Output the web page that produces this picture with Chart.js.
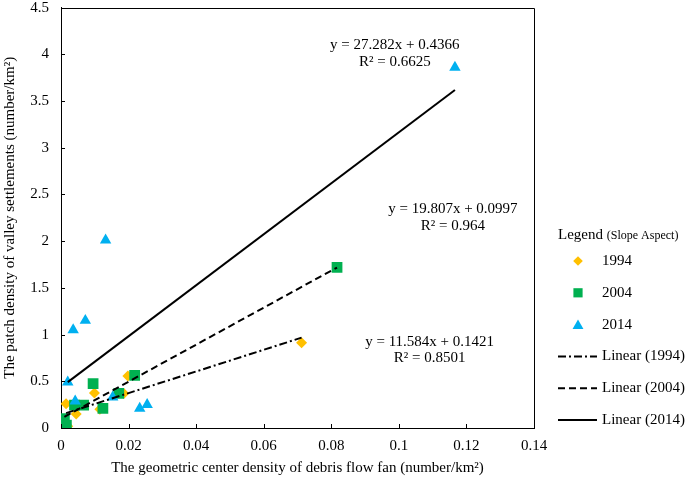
<!DOCTYPE html>
<html lang="en">
<head>
<meta charset="UTF-8">
<title>Valley settlements vs debris flow fans</title>
<script src="https://cdn.jsdelivr.net/npm/chart.js"></script>
<style>
    body { margin: 0; background: #fff; }
    #wrap { width: 685px; height: 481px; }
</style>
</head>
<body>
<div id="wrap"><canvas id="chart" width="685" height="481"></canvas></div>
<script>
// values
const years = ['1994', '2004', '2014'];

const fan1994 = [0.0015, 0.002, 0.0045, 0.0099, 0.0115, 0.0186, 0.0198, 0.0712];
const settle1994 = [0.26, 0.02, 0.15, 0.375, 0.20, 0.37, 0.556, 0.912];

const fan2004 = [0.001, 0.0016, 0.004, 0.0067, 0.0095, 0.0124, 0.0171, 0.0218, 0.0817];
const settle2004 = [0.10, 0.03, 0.245, 0.245, 0.475, 0.21, 0.37, 0.564, 1.72];

const fan2014 = [0.002, 0.0036, 0.0042, 0.0072, 0.0132, 0.0153, 0.0233, 0.0255, 0.1166];
const settle2014 = [0.49, 1.05, 0.287, 1.15, 2.01, 0.33, 0.21, 0.25, 3.86];

// linear trend lines as printed on the chart
const slopes = [11.584, 19.807, 27.282];
const intercepts = [0.1421, 0.0997, 0.4366];
const rSquared = [0.8501, 0.964, 0.6625];

const xTickLabels = ['0', '0.02', '0.04', '0.06', '0.08', '0.1', '0.12', '0.14'];
const yTickLabels = ['0', '0.5', '1', '1.5', '2', '2.5', '3', '3.5', '4', '4.5'];

// where each equation label sits, in data units (x, y of first line centre)
const eqAnchors = [[0.1091, 0.925], [0.1160, 2.34], [0.0988, 4.095]];

const colors = ['#FFC000', '#00B050', '#00B0F0'];
const shapes = ['rectRot', 'rect', 'triangle'];
const radii = [5.5, 7.6, 6.6];
const dashes = [[8, 3, 2, 3], [7, 4], []];
const FONT = "'Liberation Serif', 'Times New Roman', serif";

const fans = [fan1994, fan2004, fan2014];
const settles = [settle1994, settle2004, settle2014];

function points(xs, ys) {
    return xs.map((x, i) => ({ x: x, y: ys[i] }));
}

function trend(i) {
    const lo = Math.min(...fans[i]);
    const hi = Math.max(...fans[i]);
    return [lo, hi].map(x => ({ x: x, y: slopes[i] * x + intercepts[i] }));
}

const datasets = [];
years.forEach((yr, i) => {
    datasets.push({
        label: yr,
        data: points(fans[i], settles[i]),
        pointStyle: shapes[i],
        pointRadius: radii[i],
        pointHoverRadius: radii[i],
        pointBackgroundColor: colors[i],
        pointBorderWidth: 0,
        showLine: false,
        order: 3 - i
    });
});
years.forEach((yr, i) => {
    datasets.push({
        label: 'Linear (' + yr + ')',
        data: trend(i),
        showLine: true,
        borderColor: '#000',
        borderWidth: 2,
        borderDash: dashes[i],
        pointRadius: 0,
        order: 0
    });
});

function drawMarker(ctx, shape, x, y, r, color) {
    ctx.fillStyle = color;
    ctx.beginPath();
    if (shape === 'rect') {
        ctx.rect(x - r, y - r, 2 * r, 2 * r);
    } else if (shape === 'rectRot') {
        ctx.moveTo(x, y - r); ctx.lineTo(x + r, y); ctx.lineTo(x, y + r); ctx.lineTo(x - r, y);
        ctx.closePath();
    } else {
        ctx.moveTo(x, y - r); ctx.lineTo(x + r * 1.05, y + r * 0.85); ctx.lineTo(x - r * 1.05, y + r * 0.85);
        ctx.closePath();
    }
    ctx.fill();
}

const decorPlugin = {
    id: 'decor',
    afterDatasetsDraw(chart) {
        const ctx = chart.ctx;
        const a = chart.chartArea;
        const xs = chart.scales.x, ys = chart.scales.y;
        ctx.save();
        // frame top / right
        ctx.strokeStyle = '#000';
        ctx.lineWidth = 1;
        ctx.beginPath();
        ctx.moveTo(Math.round(a.left) + 0.5, Math.round(a.top) + 0.5);
        ctx.lineTo(Math.round(a.right) + 0.5, Math.round(a.top) + 0.5);
        ctx.lineTo(Math.round(a.right) + 0.5, Math.round(a.bottom) + 0.5);
        ctx.stroke();
        // inner tick marks
        ctx.beginPath();
        xs.ticks.forEach(t => {
            const px = Math.round(xs.getPixelForValue(t.value)) + 0.5;
            ctx.moveTo(px, a.bottom); ctx.lineTo(px, a.bottom - 4);
        });
        ys.ticks.forEach(t => {
            const py = Math.round(ys.getPixelForValue(t.value)) + 0.5;
            ctx.moveTo(a.left, py); ctx.lineTo(a.left + 4, py);
        });
        ctx.stroke();

        // equation labels
        ctx.fillStyle = '#000';
        ctx.font = '15px ' + FONT;
        ctx.textAlign = 'center';
        ctx.textBaseline = 'middle';
        eqAnchors.forEach((p, i) => {
            const cx = xs.getPixelForValue(p[0]);
            const cy = ys.getPixelForValue(p[1]);
            ctx.fillText('y = ' + slopes[i] + 'x + ' + intercepts[i], cx, cy);
            ctx.fillText('R\u00B2 = ' + rSquared[i], cx, cy + 16.5);
        });

        // legend
        const lx = a.right + 24, ty = 235;
        ctx.textAlign = 'left';
        ctx.font = '15px ' + FONT;
        ctx.fillText('Legend', lx, ty);
        const w = ctx.measureText('Legend ').width;
        ctx.font = '12px ' + FONT;
        ctx.fillText('(Slope Aspect)', lx + w, ty + 1);
        ctx.font = '15px ' + FONT;
        const step = 31.8;
        years.forEach((yr, i) => {
            const y = 261 + i * step;
            const legR = [4.8, 4.6, 5.2][i];
            drawMarker(ctx, shapes[i], lx + 20, y, legR, colors[i]);
            ctx.fillStyle = '#000';
            ctx.fillText(yr, lx + 44, y);
        });
        years.forEach((yr, i) => {
            const y = 261 + (i + 3) * step;
            ctx.beginPath();
            ctx.setLineDash(dashes[i]);
            ctx.lineWidth = 2;
            ctx.moveTo(lx, y); ctx.lineTo(lx + 39, y);
            ctx.stroke();
            ctx.setLineDash([]);
            ctx.fillText('Linear (' + yr + ')', lx + 44, y);
        });
        ctx.restore();
    }
};

new Chart(document.getElementById('chart'), {
    type: 'scatter',
    data: { datasets: datasets },
    options: {
        responsive: false,
        animation: false,
        devicePixelRatio: 1,
        layout: { padding: { top: 2, right: 151, bottom: 0, left: 0 } },
        plugins: { legend: { display: false }, tooltip: { enabled: false } },
        scales: {
            x: {
                type: 'linear',
                min: 0, max: 0.14,
                grid: { display: false, drawTicks: false },
                border: { display: true, color: '#000', width: 1 },
                ticks: {
                    stepSize: 0.02,
                    padding: 9,
                    color: '#000',
                    font: { family: FONT, size: 15 },
                    maxRotation: 0,
                    callback: (v, i) => xTickLabels[i]
                },
                title: {
                    display: true,
                    text: 'The geometric center density of debris flow fan (number/km\u00B2)',
                    color: '#000',
                    font: { family: FONT, size: 15 },
                    padding: { top: 0, bottom: 4 }
                },
                afterFit: s => { s.height = 53; s.paddingLeft = 0; s.paddingRight = 0; }
            },
            y: {
                type: 'linear',
                min: 0, max: 4.5,
                grid: { display: false, drawTicks: false },
                border: { display: true, color: '#000', width: 1 },
                ticks: {
                    stepSize: 0.5,
                    padding: 12,
                    color: '#000',
                    font: { family: FONT, size: 15 },
                    callback: (v, i) => yTickLabels[i]
                },
                title: {
                    display: true,
                    text: 'The patch density of valley settlements (number/km\u00B2)',
                    color: '#000',
                    font: { family: FONT, size: 15 },
                    padding: { top: 1, bottom: 0 }
                },
                afterFit: s => { s.width = 61; s.paddingTop = 0; s.paddingBottom = 0; }
            }
        }
    },
    plugins: [decorPlugin]
});
</script>
</body>
</html>
